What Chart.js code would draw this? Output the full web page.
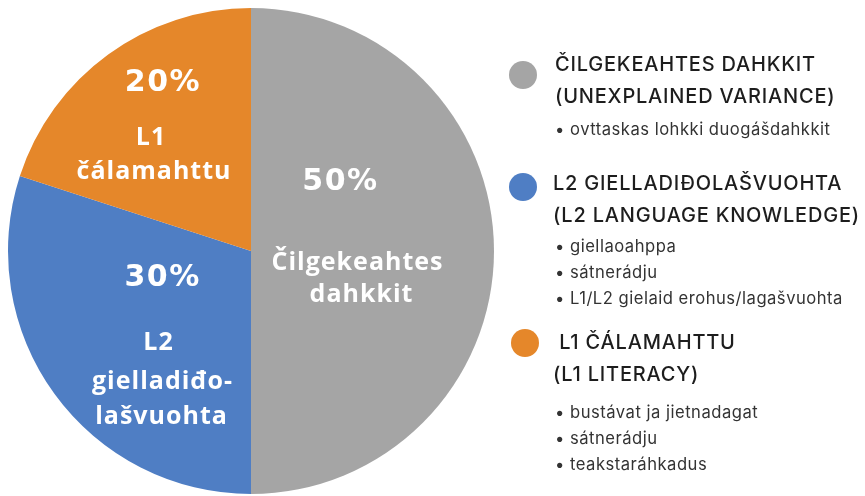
<!DOCTYPE html>
<html>
<head>
<meta charset="utf-8">
<script src="https://cdn.jsdelivr.net/npm/chart.js@4.4.1/dist/chart.umd.min.js"></script>
<style>
  html,body{margin:0;padding:0;background:#fff;}
  #wrap{position:relative;width:865px;height:496px;overflow:hidden;}
  #c{position:absolute;left:0;top:0;}
  .lg{position:absolute;font-family:Inter, "DejaVu Sans", sans-serif;color:#1d1d1d;}
  .dot{position:absolute;width:28px;height:28px;border-radius:50%;}
  .hd{position:absolute;font-size:20px;font-weight:500;letter-spacing:0.8px;line-height:32px;white-space:nowrap;}
  .sub{position:absolute;font-size:16.6px;letter-spacing:0.5px;color:#333;line-height:26px;white-space:nowrap;}
</style>
</head>
<body>
<div id="wrap">
  <canvas id="c" width="865" height="496"></canvas>
  <div id="legend"></div>
</div>
<script>
const categories = ['Čilgekeahtes dahkkit', 'L2 gielladiđolašvuohta', 'L1 čálamahttu'];
const values = [50, 30, 20];
const colors = ['#a5a5a5', '#4f7ec4', '#e5872a'];
const sliceLabelLines = [
  ['Čilgekeahtes', 'dahkkit'],
  ['L2', 'gielladiđo-', 'lašvuohta'],
  ['L1', 'čálamahttu']
];
const legendHeadings = [
  ['ČILGEKEAHTES DAHKKIT', '(UNEXPLAINED VARIANCE)'],
  ['L2 GIELLADIĐOLAŠVUOHTA', '(L2 LANGUAGE KNOWLEDGE)'],
  [' L1 ČÁLAMAHTTU', '(L1 LITERACY)']
];
const legendBullets = [
  ['ovttaskas lohkki duogášdahkkit'],
  ['giellaoahppa', 'sátnerádju', 'L1/L2 gielaid erohus/lagašvuohta'],
  ['bustávat ja jietnadagat', 'sátnerádju', 'teakstaráhkadus']
];

// slice label layout (style only)
const labelLayout = [
  {f:0.43, pct:{dx:-15, dy:-69}, lines:[{dx:2,dy:12},{dx:6,dy:44}]},
  {f:0.45, pct:{dx:0, dy:-37}, lines:[{dx:-4,dy:28},{dx:0,dy:67},{dx:-1,dy:102}]},
  {f:0.63, pct:{dx:2, dy:-44}, lines:[{dx:-10,dy:11},{dx:-7,dy:45}]}
];

const sliceLabels = {
  id:'sliceLabels',
  afterDatasetsDraw(chart){
    const ctx = chart.ctx;
    const meta = chart.getDatasetMeta(0);
    meta.data.forEach((arc, i) => {
      const p = arc.getProps(['x','y','startAngle','endAngle','outerRadius'], true);
      const mid = (p.startAngle + p.endAngle)/2;
      const L = labelLayout[i];
      const ax = p.x + Math.cos(mid)*p.outerRadius*L.f;
      const ay = p.y + Math.sin(mid)*p.outerRadius*L.f;
      ctx.save();
      ctx.fillStyle = '#ffffff';
      ctx.textAlign = 'center';
      ctx.textBaseline = 'middle';
      ctx.letterSpacing = '1.5px';
      ctx.font = 'bold 30px "DejaVu Sans", sans-serif';
      ctx.fillText(values[i] + '%', ax + L.pct.dx, ay + L.pct.dy);
      ctx.letterSpacing = '1px';
      ctx.font = 'bold 25px "Open Sans", sans-serif';
      sliceLabelLines[i].forEach((t, j) => {
        ctx.fillText(t, ax + L.lines[j].dx, ay + L.lines[j].dy);
      });
      ctx.restore();
    });
  }
};

new Chart(document.getElementById('c'), {
  type: 'pie',
  data: {
    labels: categories,
    datasets: [{ data: values, backgroundColor: colors, borderWidth: 0 }]
  },
  options: {
    responsive: false,
    animation: false,
    layout: { padding: { left: 8, right: 371, top: 8, bottom: 2 } },
    plugins: { legend: { display: false }, tooltip: { enabled: false } }
  },
  plugins: [sliceLabels]
});

// legend (HTML text)
const legendPos = [
  {dot:[509,61], hd:[555,48], sub:[555,116]},
  {dot:[509,173], hd:[553,167], sub:[555,233]},
  {dot:[511,329], hd:[553,326], sub:[555,399]}
];
const lg = document.getElementById('legend');
categories.forEach((c, i) => {
  const P = legendPos[i];
  const d = document.createElement('div');
  d.className = 'dot'; d.style.background = colors[i];
  d.style.left = P.dot[0] + 'px'; d.style.top = P.dot[1] + 'px';
  lg.appendChild(d);
  const h = document.createElement('div');
  h.className = 'lg hd';
  h.style.left = P.hd[0] + 'px'; h.style.top = P.hd[1] + 'px';
  h.innerHTML = legendHeadings[i].map(t => t.replace(/^ /,'&nbsp;')).join('<br>');
  lg.appendChild(h);
  const s = document.createElement('div');
  s.className = 'lg sub';
  s.style.left = P.sub[0] + 'px'; s.style.top = P.sub[1] + 'px';
  s.innerHTML = legendBullets[i].map(t => '•&nbsp;' + t).join('<br>');
  lg.appendChild(s);
});
</script>
</body>
</html>
